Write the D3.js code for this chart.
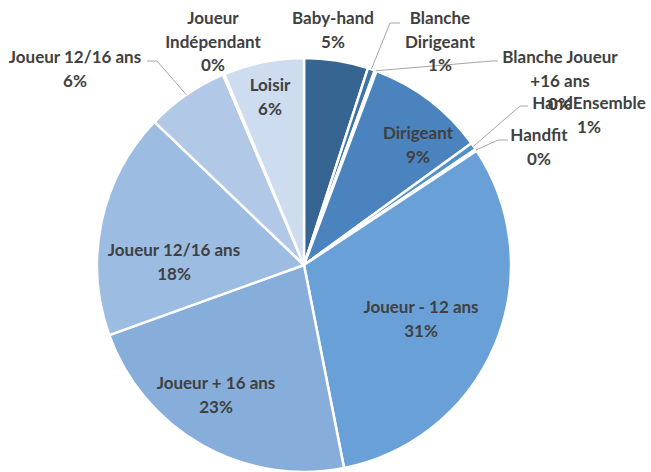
<!DOCTYPE html>
<html>
<head>
<meta charset="utf-8">
<script src="https://cdn.jsdelivr.net/npm/d3@7"></script>
<style>
  html, body { margin: 0; padding: 0; background: #ffffff; }
  svg { display: block; }
  text { font-family: Lato, "Open Sans", sans-serif; font-weight: bold; }
</style>
</head>
<body>
<svg id="chart" width="651" height="472"></svg>
<script>
// ---- data ----
const categories = [
  "Baby-hand", "Blanche Dirigeant", "Blanche Joueur +16 ans", "Dirigeant",
  "HandEnsemble", "Handfit", "Joueur - 12 ans", "Joueur + 16 ans",
  "Joueur 12/16 ans", "Joueur 12/16 ans (b)", "Joueur Indépendant", "Loisir"
];
const values = [5.0, 0.55, 0.15, 9.3, 0.55, 0.15, 31.2, 22.6, 17.65, 6.45, 0.1, 6.3];
const colors = [
  "#376591", "#3f74a8", "#4479ae", "#4a83bd",
  "#5290cb", "#5a97d2", "#6aa0d8", "#87aedb",
  "#9dbce2", "#b1c8e6", "#c0d3eb", "#cedcef"
];
// label text lines (the last line is the percentage, computed)
const labelLines = [
  ["Baby-hand"], ["Blanche", "Dirigeant"], ["Blanche Joueur", "+16 ans"], ["Dirigeant"],
  ["HandEnsemble"], ["Handfit"], ["Joueur - 12 ans"], ["Joueur + 16 ans"],
  ["Joueur 12/16 ans"], ["Joueur 12/16 ans"], ["Joueur", "Indépendant"], ["Loisir"]
];

// ---- layout (label anchors: top line center, elbow of leader lines) ----
const labelLayout = {
  "Baby-hand":              { x: 333, y: 18 },
  "Blanche Dirigeant":      { x: 440, y: 18, elbow: [390, 23], end: [400, 23] },
  "Blanche Joueur +16 ans": { x: 560, y: 57, elbow: [492, 61], end: [498, 61] },
  "Dirigeant":              { x: 418, y: 133 },
  "HandEnsemble":           { x: 589, y: 103, elbow: [520, 106], end: [528, 106] },
  "Handfit":                { x: 539, y: 135, elbow: [498, 140], end: [508, 140] },
  "Joueur - 12 ans":        { x: 421, y: 307 },
  "Joueur + 16 ans":        { x: 216, y: 383 },
  "Joueur 12/16 ans":       { x: 174, y: 250 },
  "Joueur 12/16 ans (b)":   { x: 75,  y: 57, elbow: [157, 61], end: [147, 61] },
  "Joueur Indépendant":     { x: 213, y: 18 },
  "Loisir":                 { x: 270, y: 85 }
};

const W = 651, H = 472;
const cx = 304, cy = 265, R = 207;
const lineH = 23.5;

const svg = d3.select("#chart");
const g = svg.append("g").attr("transform", `translate(${cx},${cy})`);

const data = categories.map((c, i) => ({ name: c, value: values[i], color: colors[i], lines: labelLines[i] }));
const total = d3.sum(values);

const pie = d3.pie().value(d => d.value).sort(null);
const arcs = pie(data);
const arc = d3.arc().innerRadius(0).outerRadius(R);
const outerArc = d3.arc().innerRadius(R).outerRadius(R);

g.selectAll("path.slice")
  .data(arcs)
  .enter().append("path")
  .attr("class", "slice")
  .attr("d", arc)
  .attr("fill", d => d.data.color)
  .attr("stroke", "#ffffff")
  .attr("stroke-width", 2.5)
  .attr("stroke-linejoin", "round");

// leader lines
arcs.forEach(d => {
  const L = labelLayout[d.data.name];
  if (!L.elbow) return;
  const p0 = outerArc.centroid(d);
  const pts = [[p0[0] + cx, p0[1] + cy], L.elbow, L.end];
  svg.append("path")
    .attr("d", d3.line()(pts))
    .attr("fill", "none")
    .attr("stroke", "#a6a6a6")
    .attr("stroke-width", 1);
});

// labels
arcs.forEach(d => {
  const L = labelLayout[d.data.name];
  const pct = Math.round(d.data.value / total * 100) + "%";
  const lines = d.data.lines.concat([pct]);
  const t = svg.append("text")
    .attr("text-anchor", "middle")
    .attr("font-size", 17)
    .attr("fill", "#404040");
  lines.forEach((ln, k) => {
    t.append("tspan")
      .attr("x", L.x)
      .attr("y", L.y + k * lineH + 6)
      .text(ln);
  });
});
</script>
</body>
</html>
